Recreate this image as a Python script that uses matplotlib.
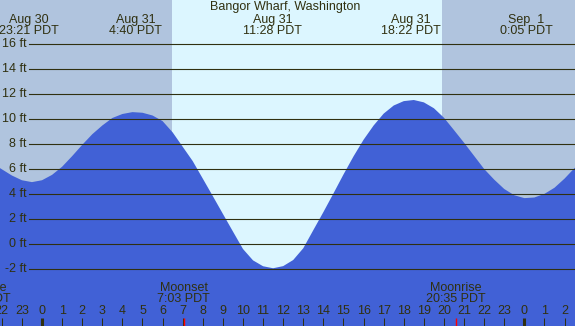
import matplotlib
matplotlib.use("Agg")
import matplotlib.pyplot as plt

# tide heights (ft) every half hour,
# hours relative to Aug 31 00:00 PDT
hours = [-2.1, -2.0, -1.5, -1.0, -0.5, 0.0, 0.5, 1.0, 1.5, 2.0, 2.5, 3.0,
         3.5, 4.0, 4.5, 5.0, 5.5, 6.0, 6.5, 7.0, 7.5, 8.0, 8.5, 9.0, 9.5,
         10.0, 10.5, 11.0, 11.5, 12.0, 12.5, 13.0, 13.5, 14.0, 14.5, 15.0,
         15.5, 16.0, 16.5, 17.0, 17.5, 18.0, 18.5, 19.0, 19.5, 20.0, 20.5,
         21.0, 21.5, 22.0, 22.5, 23.0, 23.5, 24.0, 24.5, 25.0, 25.5, 26.0,
         26.5, 26.6]
heights = [6.1, 6.0, 5.5, 5.12, 4.97, 5.12, 5.55, 6.2, 7.05, 7.95, 8.8, 9.5,
           10.1, 10.42, 10.57, 10.52, 10.3, 9.85, 8.95, 7.8, 6.65, 5.25,
           3.85, 2.43, 1.02, -0.38, -1.29, -1.76, -1.92, -1.75, -1.26,
           -0.32, 1.13, 2.57, 4.06, 5.58, 7.03, 8.36, 9.5, 10.45, 11.1,
           11.45, 11.54, 11.35, 10.88, 10.12, 9.13, 8.12, 7.07, 6.02, 5.17,
           4.42, 3.92, 3.69, 3.74, 4.03, 4.52, 5.25, 6.1, 6.2]

# high / low tide events
event_hours = [-0.65, 4.667, 11.467, 18.367, 24.083]
event_dates = ['Aug 30', 'Aug 31', 'Aug 31', 'Aug 31', 'Sep  1']
event_times = ['23:21 PDT', '4:40 PDT', '11:28 PDT', '18:22 PDT', '0:05 PDT']

# moon events
moon_hours = [-3.03, 7.05, 20.583]
moon_names = ['Moonrise', 'Moonset', 'Moonrise']
moon_times = ['20:58 PDT', '7:03 PDT', '20:35 PDT']

sunrise, sunset = 6.47, 19.9
y_levels = list(range(-2, 17, 2))
hour_ticks = list(range(-2, 27))
midnights = [0, 24]

title = 'Bangor Wharf, Washington'

x_min, x_max = -2.09, 26.52
y_min, y_max = -6.54, 19.54
W, H = 575, 326

night = '#b0c4de'
day = '#dcf6ff'
water = '#4161d6'
ink = '#303010'
font = 'Liberation Sans'
fs = 9

fig = plt.figure(figsize=(W / 100, H / 100), dpi=100)
ax = fig.add_axes([0, 0, 1, 1])
ax.set_xlim(x_min, x_max)
ax.set_ylim(y_min, y_max)
ax.axis('off')

# day / night shading
ax.axvspan(x_min, sunrise, color=night, lw=0, zorder=0)
ax.axvspan(sunrise, sunset, color=day, lw=0, zorder=0)
ax.axvspan(sunset, x_max, color=night, lw=0, zorder=0)

# tide
ax.fill_between(hours, heights, y_min - 5, color=water, lw=0, zorder=1)

# height lines and labels
for lv in y_levels:
    ax.axhline(lv, xmin=29 / W, xmax=1, color=ink, lw=0.8, zorder=3)
    ax.text(27 / W, lv, f'{lv} ft', transform=ax.get_yaxis_transform(),
            ha='right', va='center', fontsize=fs, family=font, color=ink)

# top labels
ax.text(0.5 - 2 / W, 1 - 7 / H, title, transform=ax.transAxes, ha='center',
        va='center', fontsize=fs, family=font, color=ink)
top = ax.get_xaxis_transform()
for h, d, t in zip(event_hours, event_dates, event_times):
    ax.text(h, 1 - 19.5 / H, d, transform=top, ha='center', va='center',
            fontsize=fs, family=font, color=ink)
    ax.text(h, 1 - 31.5 / H, t, transform=top, ha='center', va='center',
            fontsize=fs, family=font, color=ink)

# moon labels
for h, n, t in zip(moon_hours, moon_names, moon_times):
    ax.text(h, 1 - 288 / H, n, transform=top, ha='center', va='center',
            fontsize=fs, family=font, color=ink)
    ax.text(h, 1 - 299.5 / H, t, transform=top, ha='center', va='center',
            fontsize=fs, family=font, color=ink)

# hour ticks
for h in hour_ticks:
    ax.text(h, 1 - 311.5 / H, str(h % 24), transform=top, ha='center',
            va='center', fontsize=fs, family=font, color=ink)
    lw = 2.2 if h in midnights else 0.75
    ax.vlines(h, 0, 8 / H, transform=top, color=ink, lw=lw, zorder=4)
for h in moon_hours:
    ax.vlines(h, 0, 8 / H, transform=top, color='red', lw=1.0, zorder=5)

fig.savefig('out.png', dpi=100)
